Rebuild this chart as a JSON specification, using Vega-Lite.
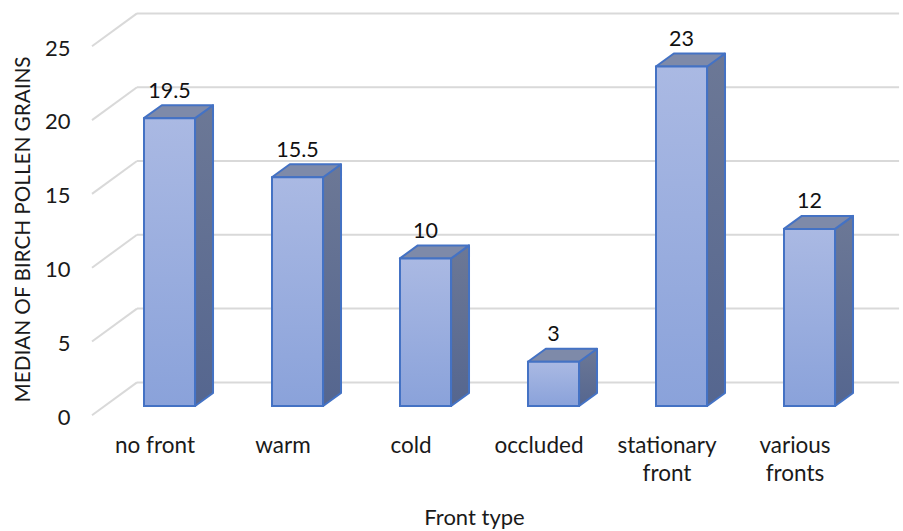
{"$schema":"https://vega.github.io/schema/vega-lite/v6.json","width":811,"height":412,"autosize":{"type":"none"},"padding":{"left":92,"top":8,"right":0,"bottom":111},"background":"white","config":{"view":{"stroke":null},"font":"Lato","axis":{"labelFont":"Lato","titleFont":"Lato"}},"datasets":{"bars":[{"front":"no front","value":19.5},{"front":"warm","value":15.5},{"front":"cold","value":10},{"front":"occluded","value":3},{"front":"stationary front","value":23},{"front":"various fronts","value":12}],"ticks":[{"tick":0},{"tick":5},{"tick":10},{"tick":15},{"tick":20},{"tick":25}]},"resolve":{"scale":{"x":"independent"}},"layer":[{"data":{"name":"ticks"},"transform":[{"calculate":"-0.6055","as":"a"},{"calculate":"-0.254","as":"b"},{"calculate":"datum.tick-0.63","as":"y0"},{"calculate":"datum.tick+1.6","as":"y1"}],"mark":{"type":"rule","stroke":"#d9d9d9","strokeWidth":2},"encoding":{"x":{"field":"a","type":"quantitative","scale":{"domain":[-0.6055,5.7305],"nice":false,"zero":false},"axis":null},"x2":{"field":"b"},"y":{"field":"y0","type":"quantitative","scale":{"domain":[-0.9485,26.965],"nice":false,"zero":false},"axis":{"title":"MEDIAN OF BIRCH POLLEN GRAINS","titleFontSize":20.7,"titleFontWeight":"normal","titleColor":"#1a1a1a","titleX":-59,"titleY":221,"values":[0,5,10,15,20,25],"labelFontSize":22,"labelColor":"#1a1a1a","labelPadding":22,"labelOffset":11,"domain":false,"ticks":false,"tickSize":0,"grid":false}},"y2":{"field":"y1"}}},{"data":{"name":"ticks"},"transform":[{"calculate":"-0.254","as":"a"},{"calculate":"5.7","as":"b"},{"calculate":"datum.tick+1.6","as":"y1"}],"mark":{"type":"rule","stroke":"#d9d9d9","strokeWidth":2},"encoding":{"x":{"field":"a","type":"quantitative","scale":{"domain":[-0.6055,5.7305],"nice":false,"zero":false},"axis":null},"x2":{"field":"b"},"y":{"field":"y1","type":"quantitative","scale":{"domain":[-0.9485,26.965],"nice":false,"zero":false}}}},{"data":{"name":"bars"},"transform":[{"window":[{"op":"row_number","as":"n"}]},{"calculate":"[0,1]","as":"k"},{"flatten":["k"]},{"calculate":"datum.n-1+0.2+datum.k*0.14","as":"xs"},{"calculate":"datum.k*0.88","as":"yb"},{"calculate":"datum.value+datum.k*0.88","as":"yt"}],"mark":{"type":"area","stroke":"#4472c4","strokeWidth":2,"strokeJoin":"round","color":{"gradient":"linear","x1":0,"y1":0,"x2":0,"y2":1,"stops":[{"offset":0,"color":"#6c7896"},{"offset":1,"color":"#55668f"}]}},"encoding":{"x":{"field":"xs","type":"quantitative","scale":{"domain":[-0.6055,5.7305],"nice":false,"zero":false},"axis":null},"y":{"field":"yt","type":"quantitative","scale":{"domain":[-0.9485,26.965],"nice":false,"zero":false},"stack":null},"y2":{"field":"yb"},"detail":{"field":"front"}}},{"data":{"name":"bars"},"transform":[{"window":[{"op":"row_number","as":"n"}]},{"calculate":"[0,1]","as":"k"},{"flatten":["k"]},{"calculate":"datum.n-1-0.2+datum.k*0.14","as":"xa"},{"calculate":"datum.n-1+0.2+datum.k*0.14","as":"xb"},{"calculate":"datum.value+datum.k*0.88","as":"yt"}],"mark":{"type":"area","orient":"horizontal","stroke":"#4472c4","strokeWidth":2,"strokeJoin":"round","color":"#7e8aa9"},"encoding":{"x":{"field":"xa","type":"quantitative","scale":{"domain":[-0.6055,5.7305],"nice":false,"zero":false},"axis":null},"x2":{"field":"xb"},"y":{"field":"yt","type":"quantitative","scale":{"domain":[-0.9485,26.965],"nice":false,"zero":false}},"detail":{"field":"front"}}},{"data":{"name":"bars"},"mark":{"type":"bar","size":51,"xOffset":14.5,"stroke":"#4472c4","strokeWidth":2,"color":{"gradient":"linear","x1":0,"y1":0,"x2":0,"y2":1,"stops":[{"offset":0,"color":"#aab9e3"},{"offset":1,"color":"#8aa2da"}]}},"encoding":{"x":{"field":"front","type":"nominal","sort":null,"scale":{"range":[-1,767],"paddingInner":0,"paddingOuter":0},"axis":{"title":"Front type","titleFontSize":22,"titleFontWeight":"normal","titleColor":"#1a1a1a","titleX":382,"titleY":87,"labelFontSize":22.5,"labelColor":"#1a1a1a","labelAngle":0,"labelPadding":14,"labelLimit":200,"labelLineHeight":28,"domain":false,"ticks":false,"tickSize":0,"labelExpr":"datum.label=='stationary front'?['stationary','front']:datum.label=='various fronts'?['various','fronts']:datum.label"}},"y":{"field":"value","type":"quantitative","scale":{"domain":[-0.9485,26.965],"nice":false,"zero":false}},"y2":{"datum":0}}},{"data":{"name":"bars"},"mark":{"type":"text","fontSize":21.5,"font":"Lato","color":"#111","xOffset":14.5,"yOffset":-26.5},"encoding":{"x":{"field":"front","type":"nominal","sort":null,"scale":{"range":[-1,767],"paddingInner":0,"paddingOuter":0},"axis":null},"y":{"field":"value","type":"quantitative","scale":{"domain":[-0.9485,26.965],"nice":false,"zero":false}},"text":{"field":"value","type":"quantitative"}}}]}
